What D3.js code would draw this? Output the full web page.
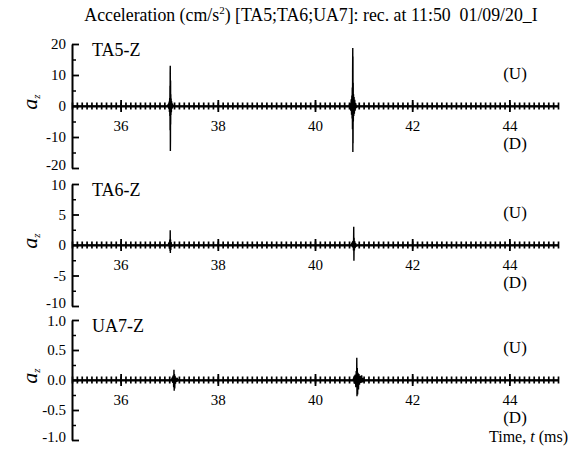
<!DOCTYPE html>
<html>
<head>
<meta charset="utf-8">
<script src="https://cdn.jsdelivr.net/npm/d3@7"></script>
<style>
  body { margin: 0; background: #fff; }
  svg text { font-family: "Liberation Serif", "Times New Roman", serif !important; fill: #000; white-space: pre; }
</style>
</head>
<body>
<svg id="chart" width="579" height="449" font-family="Liberation Serif"></svg>
<script>
// time axis (ms)
const timeDomain = [35, 45]
const timeTickLabels = [36, 38, 40, 42, 44]

// panels
const panelNames = ["TA5-Z", "TA6-Z", "UA7-Z"]
const panelDomains = [[-20, 20], [-10, 10], [-1, 1]]
const panelTicks = [[-20, -10, 0, 10, 20], [-10, -5, 0, 5, 10], [-1, -0.5, 0, 0.5, 1]]
const panelMinorTicks = [[-15, -5, 5, 15], [-7.5, -2.5, 2.5, 7.5], [-0.75, -0.25, 0.25, 0.75]]

// TA5-Z samples: time (ms), acceleration (cm/s2)
const ta5Times = [35,
  36.96, 36.98, 36.99, 37.00, 37.005, 37.01, 37.013, 37.016, 37.018, 37.020, 37.022, 37.024,
  37.026, 37.028, 37.030, 37.033, 37.036, 37.04, 37.045, 37.05, 37.06, 37.07, 37.09,
  40.70, 40.72, 40.735, 40.745, 40.752, 40.758, 40.763, 40.767, 40.771, 40.774, 40.777, 40.779,
  40.781, 40.783, 40.786, 40.789, 40.793, 40.798, 40.804, 40.81, 40.818, 40.826, 40.836, 40.85, 40.87,
  45]
const ta5Values = [0,
  0, 0.5, -0.9, 1.4, -1.9, 2.6, -3.2, 6.5, -7.8, 10.5, 13.0, -14.5,
  -11.0, 8.2, -6.0, 3.8, -2.9, 2.4, -2.0, 1.5, -0.9, 0.5, 0,
  0, 0.9, -1.5, 2.2, -2.8, 3.4, -4.0, 6.0, -7.5, 11.0, 18.7, -14.8,
  16.0, -12.0, 7.5, -5.0, 3.8, -3.2, 2.9, -2.5, 2.0, -1.5, 0.9, -0.4, 0,
  0]

// TA6-Z samples
const ta6Times = [35,
  36.98, 36.995, 37.005, 37.012, 37.017, 37.021, 37.024, 37.028, 37.033, 37.04, 37.05, 37.065,
  40.74, 40.76, 40.775, 40.785, 40.792, 40.797, 40.801, 40.805, 40.81, 40.817, 40.825, 40.835, 40.85, 40.87,
  45]
const ta6Values = [0,
  0, 0.4, -0.6, 0.9, -1.0, 2.4, -1.3, 0.9, -0.8, 0.5, -0.3, 0,
  0, 0.3, -0.4, 0.7, -0.9, 3.0, -2.6, 1.2, -0.9, 0.6, -0.5, 0.3, -0.15, 0,
  0]

// UA7-Z samples
const ua7Times = [35,
  37.04, 37.06, 37.075, 37.085, 37.092, 37.098, 37.103, 37.108, 37.114, 37.12, 37.13, 37.14, 37.155, 37.17, 37.19,
  40.78, 40.80, 40.815, 40.83, 40.84, 40.848, 40.855, 40.86, 40.864, 40.87, 40.877, 40.885, 40.895, 40.905,
  40.915, 40.93, 40.945, 40.96, 40.975, 40.99, 41.01, 41.04,
  45]
const ua7Values = [0,
  0, 0.03, -0.05, 0.08, -0.12, 0.17, -0.18, 0.1, -0.14, 0.07, -0.06, 0.04, -0.03, 0.02, 0,
  0, 0.04, -0.06, 0.09, -0.12, 0.15, -0.1, 0.37, -0.27, 0.2, -0.24, 0.12, -0.16, 0.1,
  -0.08, 0.07, -0.05, 0.08, -0.04, 0.03, -0.02, 0,
  0]

const panelTimes = [ta5Times, ta6Times, ua7Times]
const panelValues = [ta5Values, ta6Values, ua7Values]

// layout
const left = 72, right = 558
const panelTop = [44, 184, 320]
const panelBottom = [168, 306, 440]
const serif = "Liberation Serif"

const svg = d3.select("#chart")

const x = d3.scaleLinear().domain(timeDomain).range([left, right])

svg.append("text")
    .attr("x", 311).attr("y", 21)
    .attr("text-anchor", "middle")
    .attr("font-family", serif)
    .style("font-size", "17.8px")
    .call(t => {
        t.append("tspan").text("Acceleration (cm/s")
        t.append("tspan").attr("dy", -7).style("font-size", "11px").text("2")
        t.append("tspan").attr("dy", 7).text(") [TA5;TA6;UA7]: rec. at 11:50  01/09/20_I")
    })

panelNames.forEach((name, i) => {
    const y = d3.scaleLinear().domain(panelDomains[i]).range([panelBottom[i], panelTop[i]])
    const zero = y(0)
    const fmt = i == 2 ? (d => d.toFixed(1)) : (d => String(d))
    const lo = panelDomains[i][0], hi = panelDomains[i][1]
    const g = svg.append("g")

    // y axis, ticks pointing inward
    g.append("g")
        .attr("transform", `translate(${left},0)`)
        .call(d3.axisLeft(y).tickValues(panelMinorTicks[i]).tickSizeInner(-4).tickSizeOuter(0).tickFormat(""))
        .call(a => a.select(".domain").remove())
        .call(a => a.selectAll("line").attr("stroke-width", 1.5))
    g.append("g")
        .attr("transform", `translate(${left},0)`)
        .attr("font-family", serif)
        .call(d3.axisLeft(y).tickValues(panelTicks[i]).tickSizeInner(-7).tickSizeOuter(0).tickPadding(6).tickFormat(fmt))
        .call(a => a.select(".domain").attr("stroke-width", 2))
        .call(a => a.selectAll("line").attr("stroke-width", 1.8))
        .call(a => a.selectAll("text")
            .attr("font-family", serif)
            .style("font-size", "15px")
            .attr("y", d => d == lo ? -3 : (d == hi && i > 0 ? 1 : 0)))

    // time axis through zero, ticks crossing
    g.append("g")
        .attr("transform", `translate(0,${zero})`)
        .call(d3.axisBottom(x).ticks(100).tickSizeInner(3.5).tickSizeOuter(0).tickFormat(""))
        .call(a => a.select(".domain").attr("stroke-width", 2))
        .call(a => a.selectAll(".tick line").attr("y1", -3.5).attr("stroke-width", 1.7))
    g.append("g")
        .attr("transform", `translate(0,${zero})`)
        .attr("font-family", serif)
        .call(d3.axisBottom(x).tickValues(timeTickLabels).tickSizeInner(6).tickSizeOuter(0).tickPadding(8).tickFormat(String))
        .call(a => a.select(".domain").remove())
        .call(a => a.selectAll(".tick line").attr("y1", -6).attr("stroke-width", 1.8))
        .call(a => a.selectAll("text").attr("font-family", serif).style("font-size", "15px"))

    // signal
    const pts = panelTimes[i].map((t, k) => [t, panelValues[i][k]])
    g.append("path")
        .datum(pts)
        .attr("fill", "none")
        .attr("stroke", "#000")
        .attr("stroke-width", 1.4)
        .attr("d", d3.line().x(d => x(d[0])).y(d => y(d[1])))

    g.append("text")
        .attr("x", 92).attr("y", panelTop[i] + 12)
        .attr("font-family", serif)
        .style("font-size", "18px")
        .text(name)
    g.append("text")
        .attr("x", 515).attr("y", zero - 27)
        .attr("text-anchor", "middle")
        .attr("font-family", serif)
        .style("font-size", "17px")
        .text("(U)")
    g.append("text")
        .attr("x", 515).attr("y", zero + 43)
        .attr("text-anchor", "middle")
        .attr("font-family", serif)
        .style("font-size", "17px")
        .text("(D)")

    g.append("text")
        .attr("transform", `translate(37,${zero - 4}) rotate(-90)`)
        .attr("text-anchor", "middle")
        .attr("font-family", serif)
        .call(t => {
            t.append("tspan").style("font-style", "italic").style("font-size", "22px").text("a")
            t.append("tspan").attr("dy", 3).style("font-style", "italic").style("font-size", "11px").text("z")
        })
})

svg.append("text")
    .attr("x", 568).attr("y", 442)
    .attr("text-anchor", "end")
    .attr("font-family", serif)
    .style("font-size", "16px")
    .call(t => {
        t.append("tspan").text("Time, ")
        t.append("tspan").style("font-style", "italic").text("t")
        t.append("tspan").text(" (ms)")
    })
</script>
</body>
</html>
